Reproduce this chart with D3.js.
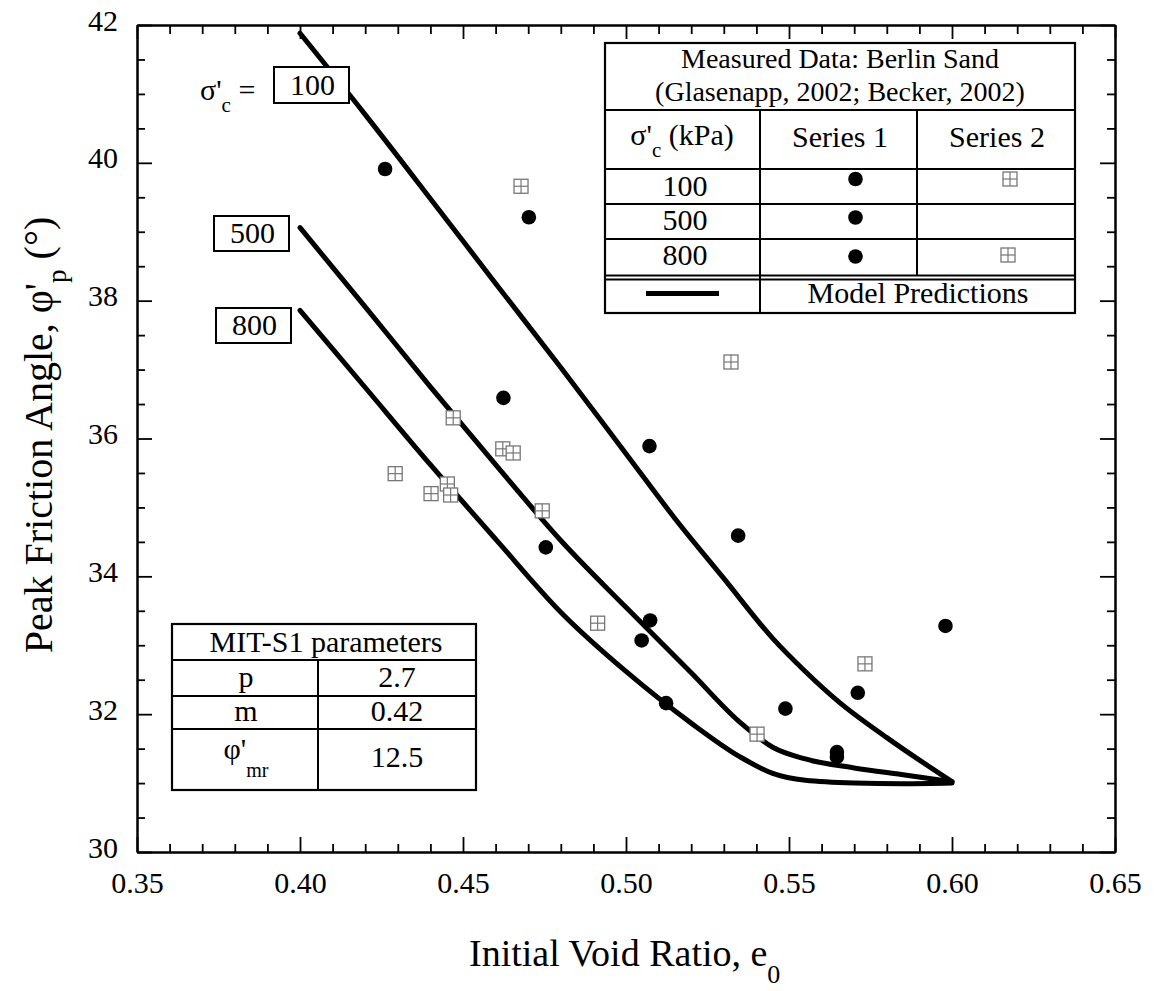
<!DOCTYPE html>
<html><head><meta charset="utf-8">
<script src="https://cdn.jsdelivr.net/npm/d3@7"></script>
<style>
html,body{margin:0;padding:0;background:#fff;}
svg, svg text, svg tspan{font-family:'Liberation Serif','Tinos','Times New Roman',Times,'DejaVu Serif',serif !important;fill:#000;}
</style></head>
<body><svg id="c" width="1155" height="991" font-family="Liberation Serif, Tinos, Times New Roman, DejaVu Serif, serif"></svg>
<script>
// ---- data ----
const curve100 = [[0.40,41.88],[0.42,40.70],[0.44,39.48],[0.46,38.25],[0.48,37.03],[0.50,35.78],[0.515,34.84],[0.53,33.97],[0.545,33.10],[0.555,32.62],[0.565,32.19],[0.58,31.66],[0.60,31.02]];
const curve500 = [[0.40,39.06],[0.42,37.91],[0.44,36.75],[0.46,35.62],[0.48,34.52],[0.50,33.55],[0.52,32.60],[0.535,31.88],[0.545,31.52],[0.555,31.35],[0.57,31.22],[0.585,31.12],[0.60,31.02]];
const curve800 = [[0.40,37.86],[0.42,36.74],[0.44,35.62],[0.46,34.54],[0.48,33.48],[0.50,32.62],[0.52,31.87],[0.535,31.38],[0.545,31.14],[0.555,31.04],[0.57,31.00],[0.585,30.99],[0.60,31.00]];
const series1 = [[0.4261,39.91],[0.4702,39.21],[0.4624,36.59],[0.5072,35.89],[0.4754,34.42],[0.5344,34.59],[0.5074,33.36],[0.5048,33.07],[0.5123,32.16],[0.5489,32.08],[0.5711,32.31],[0.5980,33.28],[0.5647,31.45],[0.5647,31.38]];
const series2 = [[0.4678,39.66],[0.5322,37.11],[0.4470,36.30],[0.4622,35.85],[0.4654,35.79],[0.4292,35.49],[0.4402,35.20],[0.4452,35.34],[0.4462,35.18],[0.4743,34.95],[0.4913,33.32],[0.5733,32.73],[0.5402,31.71]];
const xTicks = [0.35,0.40,0.45,0.50,0.55,0.60,0.65];
const yTicks = [30,32,34,36,38,40,42];
const curveLabels = ["100","500","800"];
const params = [["p","2.7"],["m","0.42"],["φ'|mr","12.5"]];
const legendRows = ["100","500","800"];

// ---- scales ----
const svg = d3.select("#c");
const L=137, R=1115, T=25, B=852;
const x = d3.scaleLinear().domain([0.35,0.65]).range([L,R]);
const y = d3.scaleLinear().domain([30,42]).range([B,T]);
const FS = 30;
const FF = "Liberation Serif, Tinos, Times New Roman, DejaVu Serif, serif";

const xMinor = d3.range(0,31).map(i=>+(0.35+i*0.01).toFixed(2)).filter(v=>!xTicks.some(t=>Math.abs(t-v)<1e-9));
const yMinor = d3.range(0,25).map(i=>30+i*0.5).filter(v=>v%2!==0);

function styleAxis(g){ g.attr("font-family",FF);
  g.select(".domain").attr("stroke","#000").attr("stroke-width",2);
  g.selectAll(".tick line").attr("stroke","#000").attr("stroke-width",1.8);
  g.selectAll("text").attr("font-size",FS); }

svg.append("g").attr("transform",`translate(0,${B})`)
  .call(d3.axisBottom(x).tickValues(xTicks).tickSize(-15).tickPadding(20).tickFormat(d3.format(".2f")).tickSizeOuter(0))
  .call(styleAxis);
svg.append("g").attr("transform",`translate(0,${B})`)
  .call(d3.axisBottom(x).tickValues(xMinor).tickSize(-8).tickFormat("").tickSizeOuter(0)).call(styleAxis);
svg.append("g").attr("transform",`translate(0,${T})`)
  .call(d3.axisTop(x).tickValues(xTicks).tickSize(-14).tickFormat("").tickSizeOuter(0)).call(styleAxis);
svg.append("g").attr("transform",`translate(0,${T})`)
  .call(d3.axisTop(x).tickValues(xMinor).tickSize(-9).tickFormat("").tickSizeOuter(0)).call(styleAxis);
const gl = svg.append("g").attr("transform",`translate(${L},0)`)
  .call(d3.axisLeft(y).tickValues(yTicks).tickSize(-15).tickPadding(19).tickFormat(d3.format("d")).tickSizeOuter(0))
  .call(styleAxis);
gl.selectAll("text").attr("dy","0.17em");
svg.append("g").attr("transform",`translate(${L},0)`)
  .call(d3.axisLeft(y).tickValues(yMinor).tickSize(-8).tickFormat("").tickSizeOuter(0)).call(styleAxis);
svg.append("g").attr("transform",`translate(${R},0)`)
  .call(d3.axisRight(y).tickValues(yTicks).tickSize(-15).tickFormat("").tickSizeOuter(0)).call(styleAxis);
svg.append("g").attr("transform",`translate(${R},0)`)
  .call(d3.axisRight(y).tickValues(yMinor).tickSize(-8).tickFormat("").tickSizeOuter(0)).call(styleAxis);

// axis titles
const xt = svg.append("text").attr("x",469).attr("y",966).attr("font-size",38);
xt.append("tspan").text("Initial Void Ratio, e");
xt.append("tspan").attr("font-size",26).attr("dy",17).text("0");

const yt = svg.append("text").attr("transform","translate(52,435) rotate(-90)").attr("text-anchor","middle").attr("font-size",40);
yt.append("tspan").text("Peak Friction Angle, φ'");
yt.append("tspan").attr("font-size",27).attr("dy",14).text("p");
yt.append("tspan").attr("dy",-14).text(" (°)");

// curves
const line = d3.line().x(d=>x(d[0])).y(d=>y(d[1])).curve(d3.curveMonotoneX);
[curve100,curve500,curve800].forEach(c=>{
  svg.append("path").datum(c).attr("d",line).attr("fill","none").attr("stroke","#000")
    .attr("stroke-width",5).attr("stroke-linejoin","round").attr("stroke-linecap","round");
});

// curve labels
const boxes = [{t:curveLabels[0],x0:274,y0:67,w:75,h:36},{t:curveLabels[1],x0:214,y0:216,w:75,h:35},{t:curveLabels[2],x0:216,y0:308,w:75,h:35}];
boxes.forEach(b=>{
  svg.append("rect").attr("x",b.x0).attr("y",b.y0).attr("width",b.w).attr("height",b.h).attr("fill","#fff").attr("stroke","#000").attr("stroke-width",2);
  svg.append("text").attr("x",b.x0+b.w/2+1).attr("y",b.y0+b.h-8).attr("text-anchor","middle").attr("font-size",30).text(b.t);
});
const sl = svg.append("text").attr("x",200).attr("y",100).attr("font-size",30);
sl.append("tspan").text("σ'");
sl.append("tspan").attr("font-size",21).attr("dy",12).text("c");
sl.append("tspan").attr("dy",-12).text(" =");

// markers
function sq(g,cx,cy,s){
  g.append("rect").attr("x",cx-s/2).attr("y",cy-s/2).attr("width",s).attr("height",s).attr("fill","#fff").attr("stroke","#777").attr("stroke-width",1.3);
  g.append("line").attr("x1",cx).attr("x2",cx).attr("y1",cy-s/2).attr("y2",cy+s/2).attr("stroke","#777").attr("stroke-width",1.2);
  g.append("line").attr("x1",cx-s/2).attr("x2",cx+s/2).attr("y1",cy).attr("y2",cy).attr("stroke","#777").attr("stroke-width",1.2);
}
const gs = svg.append("g");
series2.forEach(d=>sq(gs,x(d[0]),y(d[1]),14));
svg.append("g").selectAll("circle").data(series1).join("circle")
  .attr("cx",d=>x(d[0])).attr("cy",d=>y(d[1])).attr("r",7.3).attr("fill","#000");

// legend table (top right)
const lg = svg.append("g");
const lx0=605, lx1=1075, c1=760, c2=917;
lg.append("rect").attr("x",lx0).attr("y",43).attr("width",lx1-lx0).attr("height",313-43).attr("fill","#fff").attr("stroke","#000").attr("stroke-width",2.2);
[110,169,204,239,275.5,279.5].forEach(yy=>lg.append("line").attr("x1",lx0).attr("x2",lx1).attr("y1",yy).attr("y2",yy).attr("stroke","#000").attr("stroke-width",2));
lg.append("line").attr("x1",c1).attr("x2",c1).attr("y1",110).attr("y2",313).attr("stroke","#000").attr("stroke-width",2);
lg.append("line").attr("x1",c2).attr("x2",c2).attr("y1",110).attr("y2",275.5).attr("stroke","#000").attr("stroke-width",2);
lg.append("text").attr("x",840).attr("y",68).attr("text-anchor","middle").attr("font-size",28).text("Measured Data: Berlin Sand");
lg.append("text").attr("x",840).attr("y",101).attr("text-anchor","middle").attr("font-size",28).text("(Glasenapp, 2002; Becker, 2002)");
const hd = lg.append("text").attr("x",682).attr("y",145).attr("text-anchor","middle").attr("font-size",30);
hd.append("tspan").text("σ'");
hd.append("tspan").attr("font-size",21).attr("dy",12).text("c");
hd.append("tspan").attr("dy",-12).text(" (kPa)");
lg.append("text").attr("x",840).attr("y",147).attr("text-anchor","middle").attr("font-size",30).text("Series 1");
lg.append("text").attr("x",997).attr("y",147).attr("text-anchor","middle").attr("font-size",30).text("Series 2");
const rowBase=[195.5,230,265];
const dotY=[179,217.5,256.5];
legendRows.forEach((r,i)=>{
  lg.append("text").attr("x",685).attr("y",rowBase[i]).attr("text-anchor","middle").attr("font-size",30).text(r);
  lg.append("circle").attr("cx",855.5).attr("cy",dotY[i]).attr("r",7.3).attr("fill","#000");
});
sq(lg,1010,179,14);
sq(lg,1008,255,14);
lg.append("line").attr("x1",646).attr("x2",719).attr("y1",293.5).attr("y2",293.5).attr("stroke","#000").attr("stroke-width",5);
lg.append("text").attr("x",918).attr("y",303).attr("text-anchor","middle").attr("font-size",30).text("Model Predictions");

// params table (bottom left)
const pg = svg.append("g");
const px0=172, px1=476, pc=318;
pg.append("rect").attr("x",px0).attr("y",624).attr("width",px1-px0).attr("height",790-624).attr("fill","#fff").attr("stroke","#000").attr("stroke-width",2.2);
[660,696,729].forEach(yy=>pg.append("line").attr("x1",px0).attr("x2",px1).attr("y1",yy).attr("y2",yy).attr("stroke","#000").attr("stroke-width",2));
pg.append("line").attr("x1",pc).attr("x2",pc).attr("y1",660).attr("y2",790).attr("stroke","#000").attr("stroke-width",2);
pg.append("text").attr("x",326).attr("y",652).attr("text-anchor","middle").attr("font-size",30).text("MIT-S1 parameters");
const pBase=[687,721,767];
params.forEach((p,i)=>{
  const parts=p[0].split("|");
  const t=pg.append("text").attr("x",246).attr("y",i===2?759:pBase[i]).attr("text-anchor","middle").attr("font-size",30);
  t.append("tspan").text(parts[0]);
  if(parts[1]){ t.append("tspan").attr("font-size",20).attr("dy",18).text(parts[1]); }
  pg.append("text").attr("x",397).attr("y",pBase[i]).attr("text-anchor","middle").attr("font-size",30).text(p[1]);
});
</script></body></html>
